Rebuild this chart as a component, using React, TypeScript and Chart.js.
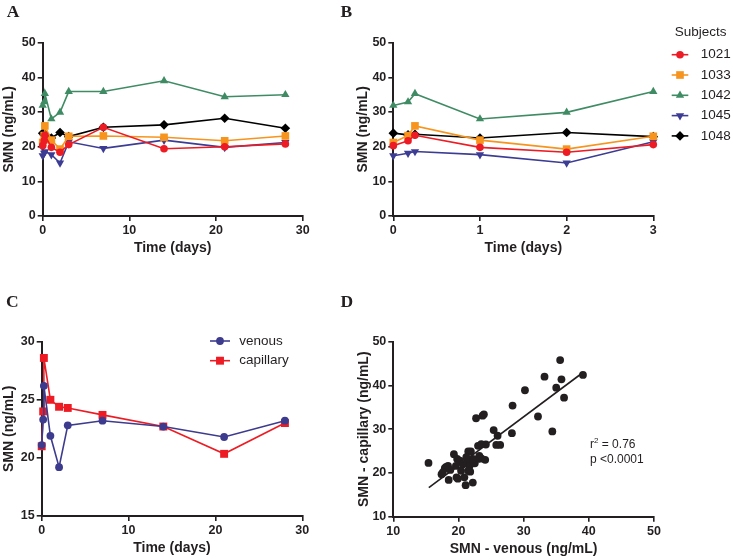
import React, { useEffect, useRef } from 'react';
import { Chart, registerables } from 'chart.js';

Chart.register(...registerables);

// ---------- data ----------
const timeDays = [0, 0.17, 0.25, 1, 2, 3, 7, 14, 21, 28];
const subjectIds = ['1021', '1033', '1042', '1045', '1048'];
const smn1021 = [20.3, 21.7, 23.3, 19.8, 18.4, 20.6, 25.6, 19.4, 20.0, 20.8];
const smn1033 = [21.2, 23.2, 26.0, 21.9, 19.3, 23.0, 23.1, 22.7, 21.7, 23.1];
const smn1042 = [31.9, 32.9, 35.3, 28.0, 29.9, 35.9, 35.9, 39.0, 34.4, 35.0];
const smn1045 = [17.4, 18.1, 18.6, 17.7, 15.3, 21.4, 19.5, 21.9, 19.8, 21.2];
const smn1048 = [23.9, 23.4, 23.6, 22.5, 24.1, 22.9, 25.6, 26.3, 28.2, 25.3];
const daysShownB = 6; // points up to day 3

const venousMean = [21.1, 23.3, 26.2, 21.9, 19.2, 22.8, 23.2, 22.7, 21.8, 23.2];
const capillaryMean = [21.0, 24.0, 28.6, 25.0, 24.4, 24.3, 23.7, 22.7, 20.35, 23.0];

const venousSMN = [
  15.4, 19.3, 17.4, 17.9, 18.1, 18.4, 17.6, 18.5, 19.7, 19.9, 19.8, 20.2, 19.6, 20.4, 20.9,
  21.1, 22.2, 21.5, 21.9, 21.3, 21.7, 21.8, 22.5, 22.7, 23.7, 23.9, 23.0, 23.2, 23.5, 23.0,
  24.1, 24.2, 23.5, 25.4, 26.0, 25.8, 26.4, 28.3, 28.2, 30.2, 32.2, 33.2, 34.4, 35.0, 35.6,
  35.8, 36.2, 39.1, 20.7, 18.75, 22.2, 21.5, 21.2,
];
const capillarySMN = [
  22.3, 24.3, 19.7, 21.1, 21.4, 21.6, 20.1, 18.4, 19.0, 18.7, 23.2, 22.8, 21.6, 20.5, 19.0,
  17.2, 17.8, 24.9, 24.9, 22.4, 21.6, 20.3, 22.2, 32.5, 33.1, 33.4, 26.2, 23.9, 23.3, 23.2,
  23.0, 26.5, 26.6, 29.8, 28.5, 26.4, 26.4, 35.4, 29.1, 38.9, 32.9, 42.0, 29.5, 39.5, 45.8,
  41.4, 37.2, 42.4, 22.0, 20.7, 23.2, 20.5, 23.6,
];
const fitX = [15.45, 39.05];
const fitY = [16.67, 42.9];
const fitR2 = '0.76';
const fitP = 'p <0.0001';

// ---------- styles ----------
const TXT = '#231f20';
const FONT = '"Liberation Sans", Arial, sans-serif';
const subjectColors = ['#ed1c24', '#f7941d', '#3f8c64', '#3c3c94', '#000000'];
const subjectStyles = ['circle', 'rect', 'triangle', 'triangle', 'rectRot'];
const subjectRot = [0, 0, 0, 180, 0];
const subjectRadius = [3.8, 5.4, 4.8, 4.8, 4.8];

function drawMarker(ctx: CanvasRenderingContext2D, style: string, x: number, y: number, r: number, rotDeg: number) {
  ctx.beginPath();
  let rad = (rotDeg * Math.PI) / 180;
  if (style === 'circle') {
    ctx.arc(x, y, r, 0, Math.PI * 2);
  } else if (style === 'rect') {
    const s = Math.SQRT1_2 * r;
    ctx.rect(x - s, y - s, 2 * s, 2 * s);
  } else if (style === 'triangle') {
    for (let k = 0; k < 3; k++) {
      const px = x + Math.sin(rad) * r;
      const py = y - Math.cos(rad) * r;
      if (k === 0) ctx.moveTo(px, py);
      else ctx.lineTo(px, py);
      rad += (2 * Math.PI) / 3;
    }
    ctx.closePath();
  } else if (style === 'rectRot') {
    ctx.moveTo(x, y - r);
    ctx.lineTo(x + r, y);
    ctx.lineTo(x, y + r);
    ctx.lineTo(x - r, y);
    ctx.closePath();
  }
  ctx.fill();
}

const extrasPlugin = {
  id: 'extras',
  afterDraw(chart: any, _args: any, opts: any) {
    const ctx: CanvasRenderingContext2D = chart.ctx;
    ctx.save();
    if (opts.letter) {
      ctx.font = 'bold 17.5px "Liberation Serif", "Times New Roman", serif';
      ctx.fillStyle = TXT;
      ctx.textAlign = 'left';
      ctx.textBaseline = 'alphabetic';
      ctx.fillText(opts.letter, opts.letterX, opts.letterY);
    }
    if (opts.legend) {
      const L = opts.legend;
      ctx.font = `13.5px ${FONT}`;
      ctx.textBaseline = 'middle';
      ctx.textAlign = 'left';
      if (L.title) {
        ctx.fillStyle = TXT;
        ctx.fillText(L.title, L.titleX, L.titleY);
      }
      chart.data.datasets.forEach((ds: any, i: number) => {
        if (!ds.label) return;
        const y = L.y0 + i * L.dy;
        ctx.strokeStyle = ds.borderColor;
        ctx.lineWidth = 1.6;
        ctx.beginPath();
        ctx.moveTo(L.x0, y);
        ctx.lineTo(L.x1, y);
        ctx.stroke();
        ctx.fillStyle = ds.pointBackgroundColor;
        drawMarker(ctx, ds.pointStyle, (L.x0 + L.x1) / 2, y, ds.pointRadius, ds.pointRotation || 0);
        ctx.fillStyle = TXT;
        ctx.font = `13.5px ${FONT}`;
        ctx.fillText(ds.label, L.textX, y);
      });
    }
    if (opts.note) {
      const n = opts.note;
      ctx.fillStyle = TXT;
      ctx.textAlign = 'left';
      ctx.textBaseline = 'alphabetic';
      ctx.font = `12px ${FONT}`;
      ctx.fillText('r', n.x, n.y1);
      let x = n.x + ctx.measureText('r').width;
      ctx.font = `8px ${FONT}`;
      ctx.fillText('2', x, n.y1 - 5);
      x += ctx.measureText('2').width;
      ctx.font = `12px ${FONT}`;
      ctx.fillText(` = ${n.r2}`, x, n.y1);
      ctx.fillText(n.p, n.x, n.y2);
    }
    ctx.restore();
  },
};

function axis(min: number, max: number, step: number, title: string, horizontal: boolean, size: number) {
  return {
    type: 'linear',
    min,
    max,
    ticks: {
      stepSize: step,
      color: TXT,
      font: { family: FONT, size: 12.5, weight: 'bold', lineHeight: 1.2 },
      padding: 2,
      autoSkip: false,
      maxRotation: 0,
    },
    grid: {
      drawOnChartArea: false,
      drawTicks: true,
      tickLength: 5,
      tickColor: TXT,
      tickWidth: 1.6,
      color: TXT,
      lineWidth: 1.6,
    },
    border: { display: true, color: TXT, width: 2 },
    title: {
      display: true,
      text: title,
      color: TXT,
      font: { family: FONT, size: 14, weight: 'bold', lineHeight: 1 },
      padding: 0,
    },
    afterFit: (s: any) => {
      if (horizontal) s.height = size;
      else s.width = size;
    },
  };
}

function subjectDatasets(n: number) {
  const series = [smn1021, smn1033, smn1042, smn1045, smn1048];
  return series.map((vals, i) => ({
    label: subjectIds[i],
    data: timeDays.slice(0, n).map((t, j) => ({ x: t, y: vals[j] })),
    borderColor: subjectColors[i],
    backgroundColor: subjectColors[i],
    pointBackgroundColor: subjectColors[i],
    pointBorderWidth: 0,
    pointStyle: subjectStyles[i],
    pointRotation: subjectRot[i],
    pointRadius: subjectRadius[i],
    borderWidth: 1.6,
    tension: 0,
    clip: false,
  }));
}

const commonPlugins = {
  legend: { display: false },
  tooltip: { enabled: false },
};

function configA() {
  return {
    type: 'line',
    data: { datasets: subjectDatasets(timeDays.length) },
    options: {
      animation: false,
      responsive: false,
      maintainAspectRatio: false,
      layout: { padding: { left: 2, right: 57.3, top: 42.7, bottom: 25 } },
      scales: {
        x: axis(0, 30, 10, 'Time (days)', true, 39),
        y: axis(0, 50, 10, 'SMN (ng/mL)', false, 40.7),
      },
      plugins: { ...commonPlugins, extras: { letter: 'A', letterX: 6.7, letterY: 16.7 } },
    },
    plugins: [extrasPlugin],
  };
}

function configB() {
  return {
    type: 'line',
    data: { datasets: subjectDatasets(daysShownB) },
    options: {
      animation: false,
      responsive: false,
      maintainAspectRatio: false,
      layout: { padding: { left: 16, right: 79.7, top: 42.7, bottom: 25 } },
      scales: {
        x: axis(0, 3, 1, 'Time (days)', true, 39),
        y: axis(0, 50, 10, 'SMN (ng/mL)', false, 37.3),
      },
      plugins: {
        ...commonPlugins,
        extras: {
          letter: 'B',
          letterX: 0.5,
          letterY: 16.7,
          legend: { title: 'Subjects', titleX: 334.7, titleY: 32.3, x0: 331.7, x1: 348.3, textX: 360.7, y0: 54.7, dy: 20.3 },
        },
      },
    },
    plugins: [extrasPlugin],
  };
}

function configC() {
  const mk = (label: string, vals: number[], color: string, style: string, r: number) => ({
    label,
    data: timeDays.map((t, j) => ({ x: t, y: vals[j] })),
    borderColor: color,
    backgroundColor: color,
    pointBackgroundColor: color,
    pointBorderWidth: 0,
    pointStyle: style,
    pointRadius: r,
    borderWidth: 1.6,
    tension: 0,
    clip: false,
  });
  return {
    type: 'line',
    data: {
      datasets: [
        mk('venous', venousMean, '#3d3b8e', 'circle', 3.9),
        mk('capillary', capillaryMean, '#ed1c24', 'rect', 5.6),
      ],
    },
    options: {
      animation: false,
      responsive: false,
      maintainAspectRatio: false,
      layout: { padding: { left: 2, right: 57.7, top: 61.7, bottom: 5 } },
      scales: {
        x: axis(0, 30, 10, 'Time (days)', true, 39),
        y: axis(15, 30, 5, 'SMN (ng/mL)', false, 39.7),
      },
      plugins: {
        ...commonPlugins,
        extras: {
          letter: 'C',
          letterX: 6,
          letterY: 26.7,
          legend: { x0: 210, x1: 230, textX: 239.3, y0: 61, dy: 19.7 },
        },
      },
    },
    plugins: [extrasPlugin],
  };
}

function configD() {
  return {
    type: 'scatter',
    data: {
      datasets: [
        {
          data: venousSMN.map((v, i) => ({ x: v, y: capillarySMN[i] })),
          backgroundColor: TXT,
          borderWidth: 0,
          pointRadius: 3.9,
          clip: false,
        },
        {
          data: fitX.map((v, i) => ({ x: v, y: fitY[i] })),
          showLine: true,
          borderColor: TXT,
          borderWidth: 1.6,
          pointRadius: 0,
          clip: false,
        },
      ],
    },
    options: {
      animation: false,
      responsive: false,
      maintainAspectRatio: false,
      layout: { padding: { left: 17, right: 79, top: 61.7, bottom: 4.3 } },
      scales: {
        x: axis(10, 50, 10, 'SMN - venous (ng/mL)', true, 39),
        y: axis(10, 50, 10, 'SMN - capillary (ng/mL)', false, 36.3),
      },
      plugins: {
        ...commonPlugins,
        extras: {
          letter: 'D',
          letterX: 0.5,
          letterY: 26.7,
          note: { x: 250, y1: 168, y2: 183, r2: fitR2, p: fitP },
        },
      },
    },
    plugins: [extrasPlugin],
  };
}

function Panel({ make, left, top, width, height }: { make: () => any; left: number; top: number; width: number; height: number }) {
  const ref = useRef<HTMLCanvasElement>(null);
  useEffect(() => {
    const chart = new Chart(ref.current as HTMLCanvasElement, make());
    return () => chart.destroy();
  }, []);
  return (
    <canvas
      ref={ref}
      width={width}
      height={height}
      style={{ position: 'absolute', left, top, width, height }}
    />
  );
}

export default function App() {
  return (
    <div style={{ position: 'absolute', left: 0, top: 0, width: 733, height: 560, background: '#ffffff', overflow: 'hidden' }}>
      <Panel make={configA} left={0} top={0} width={360} height={280} />
      <Panel make={configB} left={340} top={0} width={393} height={280} />
      <Panel make={configC} left={0} top={280} width={360} height={280} />
      <Panel make={configD} left={340} top={280} width={393} height={280} />
    </div>
  );
}
